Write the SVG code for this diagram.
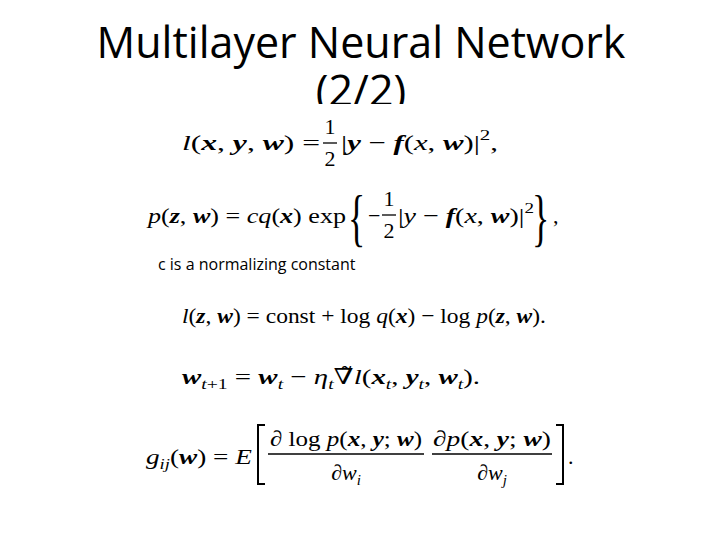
<svg xmlns="http://www.w3.org/2000/svg" width="720" height="540" viewBox="0 0 720 540">
<style>
.t{font-family:"Open Sans","Noto Sans",sans-serif;fill:#000}
.m{font-family:"Liberation Serif","DejaVu Serif",serif;font-size:22px;fill:#000}
.b{font-weight:bold;font-style:italic}
.i{font-style:italic}
.s{font-size:15px}
.br{font-family:"Liberation Serif","DejaVu Serif",serif;font-size:60px;font-weight:100;fill:#000}
</style>
<defs><clipPath id="c"><rect x="0" y="0" width="720" height="104"/></clipPath></defs>
<rect width="720" height="540" fill="#fff"/>
<g id="title" clip-path="url(#c)">
<text class="t" x="361" y="58" font-size="43" text-anchor="middle">Multilayer Neural Network</text>
<text class="t" x="361" y="106" font-size="43" text-anchor="middle">(2/2)</text>
</g>
<g id="eq1">
<text class="m" x="182" y="150" textLength="138" lengthAdjust="spacingAndGlyphs"><tspan class="i">l</tspan>(<tspan class="b">x</tspan>, <tspan class="b">y</tspan>, <tspan class="b">w</tspan>) =</text>
<text class="m" x="330" y="134" text-anchor="middle">1</text>
<line x1="323" y1="143" x2="337" y2="143" stroke="#000" stroke-width="1.3"/>
<text class="m" x="330" y="166" text-anchor="middle">2</text>
<text class="m" x="341" y="150" textLength="157" lengthAdjust="spacingAndGlyphs">|<tspan class="b">y</tspan> − <tspan class="b">f</tspan>(<tspan class="i">x</tspan>, <tspan class="b">w</tspan>)|<tspan class="s" dy="-10">2</tspan><tspan dy="10">,</tspan></text>
</g>
<g id="eq2">
<text class="m" x="148" y="223" textLength="198" lengthAdjust="spacingAndGlyphs"><tspan class="i">p</tspan>(<tspan class="b">z</tspan>, <tspan class="b">w</tspan>) = <tspan class="i">cq</tspan>(<tspan class="b">x</tspan>) exp</text>
<text class="br" x="0" y="0" transform="translate(348 239) scale(0.6 1.05)">{</text>
<text class="m" x="368" y="223">−</text>
<text class="m" x="389" y="206" text-anchor="middle">1</text>
<line x1="382" y1="215" x2="396" y2="215" stroke="#000" stroke-width="1.3"/>
<text class="m" x="389" y="238" text-anchor="middle">2</text>
<text class="m" x="398" y="223" textLength="136" lengthAdjust="spacingAndGlyphs">|<tspan class="i">y</tspan> − <tspan class="b">f</tspan>(<tspan class="i">x</tspan>, <tspan class="b">w</tspan>)|<tspan class="s" dy="-10">2</tspan></text>
<text class="br" x="0" y="0" transform="translate(532 239) scale(0.6 1.05)">}</text>
<text class="m" x="553" y="223">,</text>
</g>
<g id="note"><text class="t" x="158" y="270" font-size="16">c is a normalizing constant</text></g>
<g id="eq3">
<text class="m" x="182" y="323" textLength="364" lengthAdjust="spacingAndGlyphs"><tspan class="i">l</tspan>(<tspan class="b">z</tspan>, <tspan class="b">w</tspan>) = const + log <tspan class="i">q</tspan>(<tspan class="b">x</tspan>) − log <tspan class="i">p</tspan>(<tspan class="b">z</tspan>, <tspan class="b">w</tspan>).</text>
</g>
<g id="eq4">
<text class="m" x="182" y="384" textLength="298" lengthAdjust="spacingAndGlyphs"><tspan class="b">w</tspan><tspan class="s i" dy="5">t</tspan><tspan class="s">+1</tspan><tspan dy="-5"> = </tspan><tspan class="b">w</tspan><tspan class="s i" dy="5">t</tspan><tspan dy="-5"> − </tspan><tspan class="i">η</tspan><tspan class="s i" dy="5">t</tspan><tspan dy="-5">∇̃</tspan><tspan class="i">l</tspan><tspan>(</tspan><tspan class="b">x</tspan><tspan class="s i" dy="5">t</tspan><tspan dy="-5">, </tspan><tspan class="b">y</tspan><tspan class="s i" dy="5">t</tspan><tspan dy="-5">, </tspan><tspan class="b">w</tspan><tspan class="s i" dy="5">t</tspan><tspan dy="-5">).</tspan></text>
</g>
<g id="eq5">
<text class="m" x="146" y="464" textLength="106" lengthAdjust="spacingAndGlyphs"><tspan class="i">g</tspan><tspan class="s i" dy="5">ij</tspan><tspan dy="-5">(</tspan><tspan class="b">w</tspan>) = <tspan class="i">E</tspan></text>
<path d="M265 425 H258 V484 H265" fill="none" stroke="#000" stroke-width="2"/>
<text class="m" x="346" y="446" text-anchor="middle" textLength="152" lengthAdjust="spacingAndGlyphs">∂ log <tspan class="i">p</tspan>(<tspan class="b">x</tspan>, <tspan class="b">y</tspan>; <tspan class="b">w</tspan>)</text>
<line x1="268" y1="454" x2="424" y2="454" stroke="#000" stroke-width="1.3"/>
<text class="m" x="346" y="480" text-anchor="middle">∂<tspan class="i">w</tspan><tspan class="s i" dy="5">i</tspan></text>
<text class="m" x="492" y="446" text-anchor="middle" textLength="118" lengthAdjust="spacingAndGlyphs">∂<tspan class="i">p</tspan>(<tspan class="b">x</tspan>, <tspan class="b">y</tspan>; <tspan class="b">w</tspan>)</text>
<line x1="432" y1="454" x2="552" y2="454" stroke="#000" stroke-width="1.3"/>
<text class="m" x="492" y="480" text-anchor="middle">∂<tspan class="i">w</tspan><tspan class="s i" dy="5">j</tspan></text>
<path d="M556 425 H563 V484 H556" fill="none" stroke="#000" stroke-width="2"/>
<text class="m" x="568" y="464">.</text>
</g>
</svg>
